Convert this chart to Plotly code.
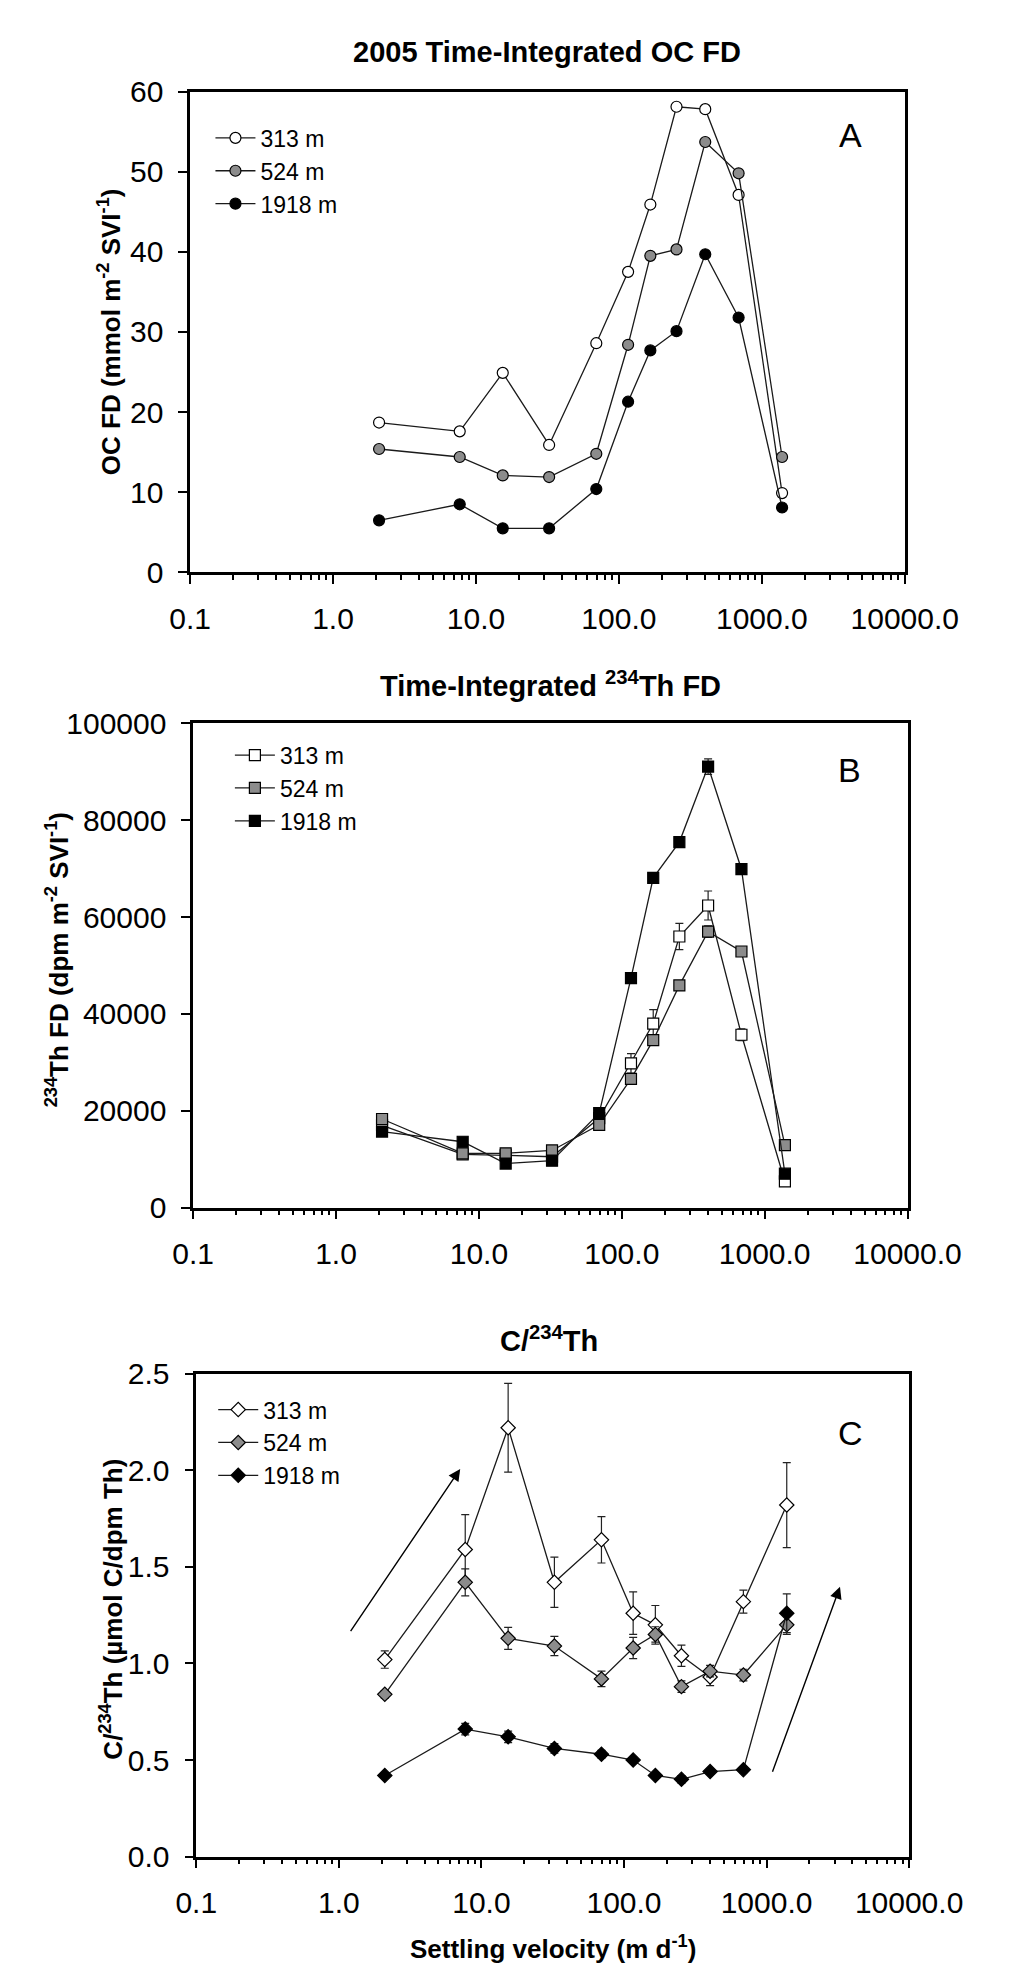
import math
import plotly.graph_objects as go

# ---------------- data ----------------
velocity = [2.1, 7.7, 15.4, 32.5, 69.5, 116, 166, 253, 402, 688, 1386]
depths = ["313 m", "524 m", "1918 m"]

oc_313 = [18.7, 17.6, 24.9, 15.9, 28.6, 37.5, 45.9, 58.1, 57.8, 47.1, 9.9]
oc_524 = [15.4, 14.4, 12.1, 11.9, 14.8, 28.4, 39.5, 40.3, 53.7, 49.8, 14.4]
oc_1918 = [6.5, 8.5, 5.5, 5.5, 10.4, 21.3, 27.7, 30.1, 39.7, 31.8, 8.1]

th_313 = [17000, 11000, 10800, 10500, 18500, 29800, 38000, 56000, 62400, 35700, 5400]
th_524 = [18300, 11200, 11200, 11800, 17100, 26600, 34600, 45900, 57000, 52900, 12900]
th_1918 = [15700, 13600, 9100, 9700, 19500, 47400, 68100, 75500, 91100, 69900, 7000]
th_313_err = [500, 500, 500, 500, 800, 2000, 2900, 2700, 3000, 1200, 400]
th_524_err = [800, 800, 700, 600, 800, 1000, 1000, 1000, 1200, 800, 600]
th_1918_err = [600, 900, 600, 500, 900, 800, 1000, 1000, 1600, 800, 500]

ct_313 = [1.02, 1.59, 2.22, 1.42, 1.64, 1.26, 1.20, 1.04, 0.93, 1.32, 1.82]
ct_524 = [0.84, 1.42, 1.13, 1.09, 0.92, 1.08, 1.15, 0.88, 0.96, 0.94, 1.20]
ct_1918 = [0.42, 0.66, 0.62, 0.56, 0.53, 0.50, 0.42, 0.40, 0.44, 0.45, 1.26]
ct_313_err = [0.045, 0.18, 0.23, 0.13, 0.12, 0.11, 0.10, 0.055, 0.045, 0.06, 0.22]
ct_524_err = [0.02, 0.07, 0.057, 0.05, 0.04, 0.055, 0.04, 0.03, 0.03, 0.03, 0.05]
ct_1918_err = [0.015, 0.03, 0.03, 0.025, 0.02, 0.015, 0.015, 0.02, 0.015, 0.015, 0.1]

# arrows drawn in panel C: (tail velocity, tail value, head velocity, head value)
arrow_tails_x = [1.19, 1091]
arrow_tails_y = [1.16, 0.432]
arrow_heads_x = [7.1, 3275]
arrow_heads_y = [2.007, 1.397]

x_tickvals = [0.1, 1, 10, 100, 1000, 10000]
x_ticktext = ["0.1", "1.0", "10.0", "100.0", "1000.0", "10000.0"]

# ---------------- style ----------------
W, H = 1010, 1975
FONT = "Liberation Sans, Arial, sans-serif"
fills = ["white", "#8c8c8c", "black"]
LINEC = "#1a1a1a"

fig = go.Figure()

def add_series(ys, errs, symbol, xa, ya, leg):
    for i, (name, y) in enumerate(zip(depths, ys)):
        kw = {}
        if errs is not None:
            kw["error_y"] = dict(type="data", array=errs[i], color="#222222",
                                 thickness=1.2, width=4)
        fig.add_trace(go.Scatter(
            x=velocity, y=y, name=name, mode="lines+markers",
            xaxis=xa, yaxis=ya, legend=leg,
            line=dict(color=LINEC, width=1.3),
            marker=dict(symbol=symbol, size=11,
                        color=fills[i], line=dict(color="black", width=1.2)),
            **kw))

add_series([oc_313, oc_524, oc_1918], None, "circle", "x", "y", "legend")
add_series([th_313, th_524, th_1918], [th_313_err, th_524_err, th_1918_err],
           "square", "x2", "y2", "legend2")
add_series([ct_313, ct_524, ct_1918], [ct_313_err, ct_524_err, ct_1918_err],
           "diamond", "x3", "y3", "legend3")

minor_vals = [m * 10 ** e for e in range(-1, 4) for m in range(2, 10)]

def xaxis(domain, anchor):
    return dict(type="log", range=[-1, 4], domain=domain, anchor=anchor,
                tickvals=x_tickvals, ticktext=x_ticktext,
                ticks="outside", ticklen=9, tickwidth=2, tickcolor="black",
                minor=dict(tickvals=minor_vals, ticks="outside", ticklen=5,
                           tickwidth=2, tickcolor="black"),
                showline=True, linewidth=2.5, linecolor="black", mirror=True,
                showgrid=False, zeroline=False,
                tickfont=dict(family=FONT, size=30, color="black"),
                ticklabelstandoff=9)

def yaxis(domain, anchor, rng, dtick, fmt):
    return dict(range=rng, domain=domain, anchor=anchor, dtick=dtick, tick0=0,
                tickformat=fmt,
                ticks="outside", ticklen=9, tickwidth=2, tickcolor="black",
                showline=True, linewidth=2.5, linecolor="black", mirror=True,
                showgrid=False, zeroline=False,
                tickfont=dict(family=FONT, size=30, color="black"),
                ticklabelstandoff=9)

def px_x(p):
    return p / W

def px_y(p):
    return 1 - p / H

dA = dict(x=[px_x(174), px_x(946)], y=[px_y(557), px_y(67.7)])
dB = dict(x=[px_x(177.3), px_x(949)], y=[px_y(1203.3), px_y(710.7)])
dC = dict(x=[px_x(180.7), px_x(950.7)], y=[px_y(1863.7), px_y(1372.3)])

def legend(xp, yp):
    return dict(x=px_x(xp), y=px_y(yp), xanchor="left", yanchor="top",
                bgcolor="rgba(0,0,0,0)", font=dict(family=FONT, size=23, color="black"),
                itemwidth=40, tracegroupgap=0, traceorder="normal")

annotations = []
def txt(x, y, text, size, bold=False, angle=0):
    annotations.append(dict(
        x=px_x(x), y=px_y(y), xref="paper", yref="paper", showarrow=False,
        text=f"<b>{text}</b>" if bold else text, textangle=angle,
        font=dict(family=FONT, size=size, color="black"),
        xanchor="center", yanchor="middle"))

txt(560, 27, "2005 Time-Integrated OC FD", 29, bold=True)
txt(563, 671, "Time-Integrated <sup>234</sup>Th FD", 29, bold=True)
txt(562, 1337, "C/<sup>234</sup>Th", 29, bold=True)
txt(87, 312, "OC FD (mmol m<sup>-2</sup> SVI<sup>-1</sup>)", 26, bold=True, angle=-90)
txt(31, 951, "<sup>234</sup>Th FD (dpm m<sup>-2</sup> SVI<sup>-1</sup>)", 26, bold=True, angle=-90)
txt(89, 1612, "C/<sup>234</sup>Th (µmol C/dpm Th)", 26, bold=True, angle=-90)
txt(566, 1956, "Settling velocity (m d<sup>-1</sup>)", 26, bold=True)
txt(887, 112, "A", 34)
txt(886, 758, "B", 34)
txt(887, 1433, "C", 34)

for x0, y0, x1, y1 in zip(arrow_tails_x, arrow_tails_y, arrow_heads_x, arrow_heads_y):
    annotations.append(dict(
        x=math.log10(x1), y=y1, ax=math.log10(x0), ay=y0,
        xref="x3", yref="y3", axref="x3", ayref="y3",
        showarrow=True, arrowhead=2, arrowsize=1.7, arrowwidth=1.4,
        arrowcolor="black", text=""))

fig.update_layout(
    width=W, height=H, margin=dict(l=0, r=0, t=0, b=0),
    paper_bgcolor="white", plot_bgcolor="white",
    font=dict(family=FONT, color="black"),
    xaxis=xaxis(dA["x"], "y"), yaxis=yaxis(dA["y"], "x", [0, 60], 10, "d"),
    xaxis2=xaxis(dB["x"], "y2"), yaxis2=yaxis(dB["y"], "x2", [0, 100000], 20000, "d"),
    xaxis3=xaxis(dC["x"], "y3"), yaxis3=yaxis(dC["y"], "x3", [0, 2.5], 0.5, ".1f"),
    legend=legend(196, 93),
    legend2=legend(217, 721),
    legend3=legend(199, 1387),
    annotations=annotations,
    showlegend=True,
)

fig.write_html("out.html")
